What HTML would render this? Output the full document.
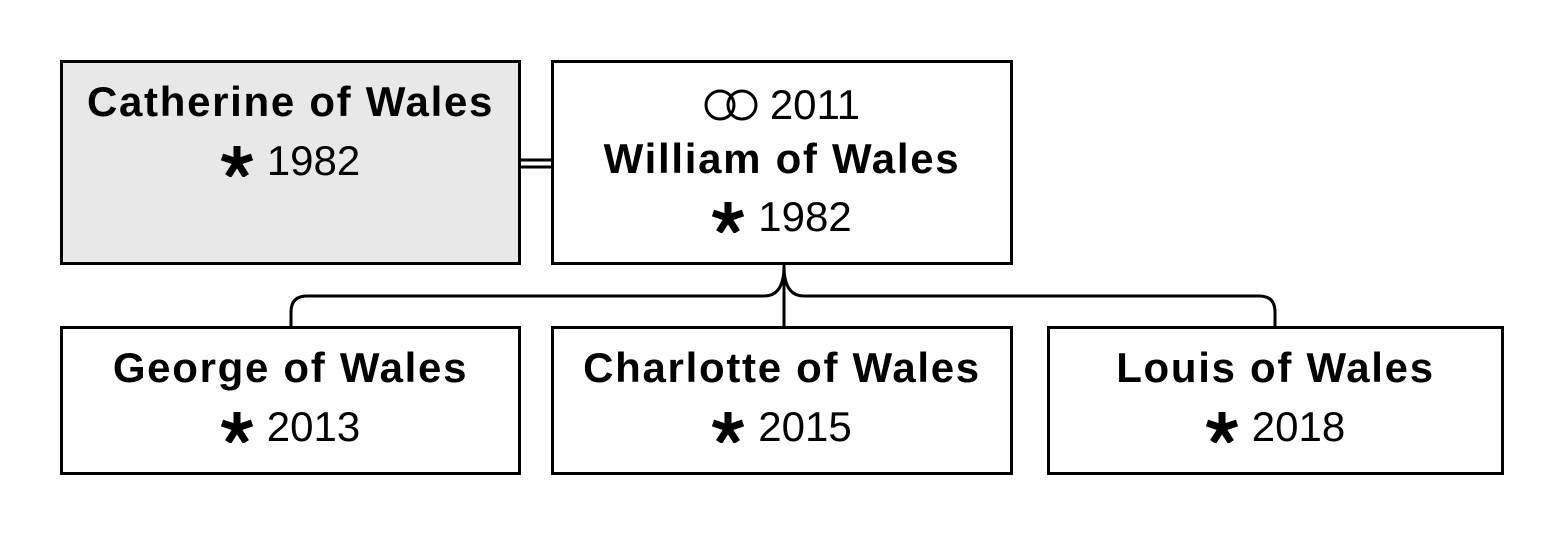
<!DOCTYPE html><html><head><style>
body{margin:0;width:1568px;height:540px;background:#fff;position:relative;overflow:hidden;font-family:"Liberation Sans",Arial,sans-serif;}
.b{position:absolute;box-sizing:border-box;border:3px solid #000;background:#fff;}
.t{position:absolute;left:0;right:0;text-align:center;font-size:42px;line-height:44px;white-space:nowrap;color:#000}
.n{font-weight:bold;letter-spacing:1.7px}
.s{display:inline-block;width:32px;height:32px;vertical-align:-2px;margin-right:14px}
</style></head><body>
<svg width="1568" height="540" style="position:absolute;left:0;top:0" fill="none" stroke="#000" stroke-width="3">
<line x1="520" y1="160" x2="552" y2="160"/><line x1="520" y1="167" x2="552" y2="167"/>
<line x1="784" y1="263" x2="784" y2="327"/>
<path d="M291 327 V312 Q291 296 307 296 H764 Q784 296 784 266 Q784 296 804 296 H1259 Q1275 296 1275 312 V327"/>
</svg>
<svg width="0" height="0" style="position:absolute"><defs><g id="st"><g stroke="#000" stroke-width="7" stroke-linecap="butt"><line x1="16" y1="17" x2="16" y2="1"/><line x1="16" y1="17" x2="31" y2="12"/><line x1="16" y1="17" x2="25" y2="31"/><line x1="16" y1="17" x2="7" y2="31"/><line x1="16" y1="17" x2="1" y2="12"/></g></g></defs></svg>
<div class="b" style="left:60px;top:60px;width:461px;height:205px;background:#e8e8e8">
<div class="t n" style="top:17px">Catherine of Wales</div>
<div class="t" style="top:76px"><svg class="s" viewBox="0 0 32 32"><use href="#st"/></svg>1982</div></div>
<div class="b" style="left:551px;top:60px;width:462px;height:205px">
<div class="t" style="top:20px"><svg style="display:inline-block;vertical-align:-3px;margin-right:12px" width="54" height="34" viewBox="0 0 54 34" fill="none" stroke="#000" stroke-width="3"><circle cx="16" cy="17" r="14"/><circle cx="38" cy="17" r="14"/></svg>2011</div>
<div class="t n" style="top:74px">William of Wales</div>
<div class="t" style="top:132px"><svg class="s" viewBox="0 0 32 32"><use href="#st"/></svg>1982</div></div>
<div class="b" style="left:60px;top:326px;width:461px;height:149px">
<div class="t n" style="top:17px">George of Wales</div>
<div class="t" style="top:76px"><svg class="s" viewBox="0 0 32 32"><use href="#st"/></svg>2013</div></div>
<div class="b" style="left:551px;top:326px;width:462px;height:149px">
<div class="t n" style="top:17px">Charlotte of Wales</div>
<div class="t" style="top:76px"><svg class="s" viewBox="0 0 32 32"><use href="#st"/></svg>2015</div></div>
<div class="b" style="left:1047px;top:326px;width:457px;height:149px">
<div class="t n" style="top:17px">Louis of Wales</div>
<div class="t" style="top:76px"><svg class="s" viewBox="0 0 32 32"><use href="#st"/></svg>2018</div></div>
</body></html>
